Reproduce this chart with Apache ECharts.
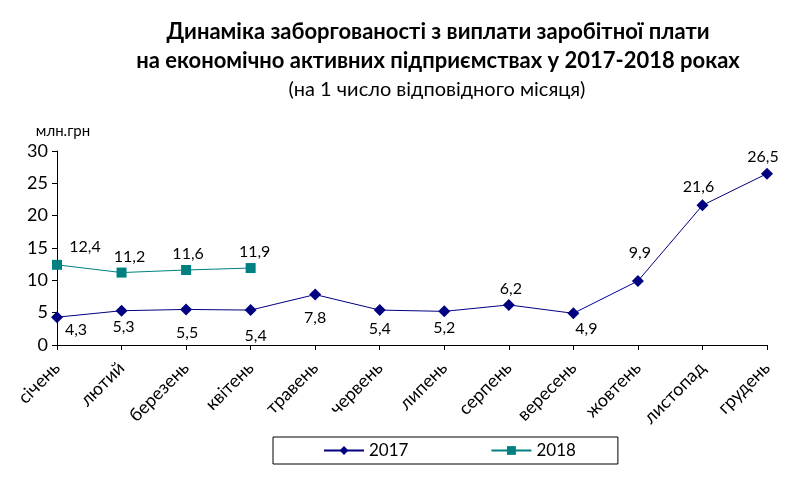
<!DOCTYPE html>
<html>
<head>
<meta charset="utf-8">
<script src="https://cdn.jsdelivr.net/npm/echarts@6/dist/echarts.min.js"></script>
<style>html,body{margin:0;padding:0;background:#fff}#c{width:805px;height:485px}</style>
</head>
<body>
<div id="c"></div>
<script>
var categories = ['січень','лютий','березень','квітень','травень','червень','липень','серпень','вересень','жовтень','листопад','грудень'];
var values2017 = [4.3, 5.3, 5.5, 5.4, 7.8, 5.4, 5.2, 6.2, 4.9, 9.9, 21.6, 26.5];
var values2018 = [12.4, 11.2, 11.6, 11.9];
var seriesNames = ['2017', '2018'];
var yTicks = [0, 5, 10, 15, 20, 25, 30];

// label offsets (style only)
var off2017 = [[19,13],[2,16],[1,23],[5,26],[0,23],[0,19],[0,16],[2,-16],[13,16],[2,-28],[-4,-18],[-4,-17]];
var off2018 = [[28,-18],[8,-16],[2,-16],[4,-16]];

function fmt(v){ return String(v).replace('.', ','); }
function build(vals, offs){
  return vals.map(function(v,i){
    return {value: v, label: {offset: offs[i]}};
  });
}
var FONT = 'Lato';

var chart = echarts.init(document.getElementById('c'));
chart.setOption({
  animation: false,
  backgroundColor: '#fff',
  title: [
    {text: 'Динаміка заборгованості з виплати заробітної плати\nна економічно активних підприємствах у 2017-2018 роках',
     left: 433, top: 12, textAlign: 'center',
     textStyle: {fontFamily: FONT, fontWeight: 'bold', fontSize: 22, lineHeight: 29, color: '#000'}},
    {text: '(на 1 число відповідного місяця)', left: 432, top: 75, textAlign: 'center',
     textStyle: {fontFamily: FONT, fontWeight: 'normal', fontSize: 20, color: '#000'}}
  ],
  legend: {
    left: 273, top: 437,
    data: seriesNames,
    itemWidth: 40, itemHeight: 11, itemGap: 82,
    padding: [5, 42, 5, 50],
    borderColor: '#000', borderWidth: 1,
    textStyle: {fontFamily: FONT, fontSize: 17, color: '#000'}
  },
  grid: {left: 57, right: 38, top: 151, bottom: 140, containLabel: false},
  xAxis: {
    type: 'category', data: categories, boundaryGap: false,
    axisLine: {lineStyle: {color: '#000', width: 1}},
    axisTick: {show: true, alignWithLabel: true, length: 5, lineStyle: {color: '#000'}},
    axisLabel: {rotate: 45, margin: 20, interval: 0, fontFamily: FONT, fontSize: 18, color: '#000'},
    splitLine: {show: false}
  },
  yAxis: {
    type: 'value', min: 0, max: 30, interval: 5,
    name: 'млн.грн', nameLocation: 'end', nameGap: 12,
    nameTextStyle: {fontFamily: FONT, fontSize: 15, color: '#000', align: 'center', padding: [0,0,0,12]},
    axisLine: {show: true, lineStyle: {color: '#000', width: 1}},
    axisTick: {show: true, length: 5, lineStyle: {color: '#000'}},
    axisLabel: {fontFamily: FONT, fontSize: 18, color: '#000', margin: 9},
    splitLine: {show: false}
  },
  series: [
    {name: seriesNames[0], type: 'line', data: build(values2017, off2017),
     symbol: 'diamond', symbolSize: 12,
     itemStyle: {color: '#000080'}, lineStyle: {color: '#000080', width: 1},
     label: {show: true, position: 'inside', formatter: function(p){return fmt(p.value);},
       fontFamily: FONT, fontSize: 16, color: '#000'}},
    {name: seriesNames[1], type: 'line', data: build(values2018, off2018),
     symbol: 'rect', symbolSize: 10,
     itemStyle: {color: '#008080'}, lineStyle: {color: '#008080', width: 1},
     label: {show: true, position: 'inside', formatter: function(p){return fmt(p.value);},
       fontFamily: FONT, fontSize: 16, color: '#000'}}
  ]
});
</script>
</body>
</html>
